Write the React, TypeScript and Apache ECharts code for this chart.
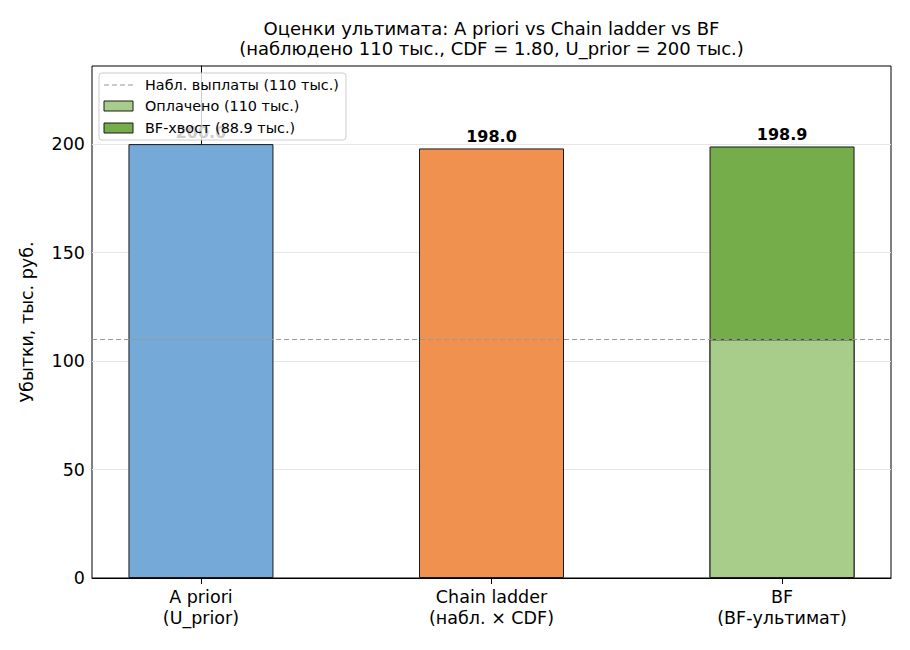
import React, { useEffect, useRef } from "react";
import * as echarts from "echarts";

const categories = ["A priori\n(U_prior)", "Chain ladder\n(набл. × CDF)", "BF\n(BF-ультимат)"];
const aprioriValue = 200.0;
const chainLadderValue = 198.0;
const bfPaid = 110.0;
const bfTail = 88.9;
const observedPaid = 110;
const yTicks = [0, 50, 100, 150, 200];
const titleLines = [
  "Оценки ультимата: A priori vs Chain ladder vs BF",
  "(наблюдено 110 тыс., CDF = 1.80, U_prior = 200 тыс.)",
];
const legendLabels = ["Набл. выплаты (110 тыс.)", "Оплачено (110 тыс.)", "BF-хвост (88.9 тыс.)"];

const FONT = "'DejaVu Sans', sans-serif";
const C_BLUE = "#74a9d8";
const C_ORANGE = "#f09150";
const C_LGREEN = "#a8cd8a";
const C_DGREEN = "#74ad4a";
const EDGE = "#1a1a1a";

export default function App() {
  const ref = useRef<HTMLDivElement>(null);
  useEffect(() => {
    if (!ref.current) return;
    const chart = echarts.init(ref.current, null, { renderer: "svg" });
    const gridLeft = 92, gridTop = 66, gridRight = 19, gridBottom = 72;
    const plotCenterX = gridLeft + (910 - gridLeft - gridRight) / 2;
    const lx = 99, ly = 73;
    const labelStyle = {
      position: "top", distance: 4, fontFamily: FONT, fontSize: 16, fontWeight: "bold", color: "#000",
    };
    const bfTotal = bfPaid + bfTail;
    const option: any = {
      animation: false,
      grid: {
        left: gridLeft, top: gridTop, right: gridRight, bottom: gridBottom,
        show: true, borderColor: "#000", borderWidth: 1, backgroundColor: "transparent",
      },
      xAxis: {
        type: "value", min: -0.375, max: 2.375,
        splitLine: { show: false },
        axisLine: { show: true, onZero: false, lineStyle: { color: "#000", width: 1 } },
        axisTick: { show: true, customValues: [0, 1, 2], length: 6, lineStyle: { color: "#000" } },
        axisLabel: {
          customValues: [0, 1, 2],
          formatter: (v: number) => categories[Math.round(v)] ?? "",
          fontFamily: FONT, fontSize: 17.5, color: "#000", lineHeight: 21, margin: 8,
          showMinLabel: true, showMaxLabel: true,
        },
      },
      yAxis: {
        type: "value", min: 0, max: 236, interval: 50,
        name: "Убытки, тыс. руб.", nameLocation: "middle", nameGap: 56,
        nameTextStyle: { fontFamily: FONT, fontSize: 17.5, color: "#000" },
        axisLine: { show: true, lineStyle: { color: "#000", width: 1 } },
        axisTick: { show: true, length: 6, lineStyle: { color: "#000" }, customValues: yTicks },
        axisLabel: { fontFamily: FONT, fontSize: 17.5, color: "#000", margin: 7, customValues: yTicks },
        splitLine: { show: true, lineStyle: { color: "#e6e6e6", width: 1 } },
      },
      series: [
        {
          // BF total (paid + tail); the paid part is drawn over its lower section
          type: "bar", barWidth: 145, barGap: "-100%", z: 2,
          data: [[2, bfTotal]],
          itemStyle: { color: C_DGREEN, borderColor: EDGE, borderWidth: 1 },
          label: { ...labelStyle, show: true, formatter: () => bfTotal.toFixed(1) },
        },
        {
          type: "bar", barWidth: 145, barGap: "-100%", z: 2,
          data: [
            { value: [0, aprioriValue], itemStyle: { color: C_BLUE }, label: { show: true } },
            { value: [1, chainLadderValue], itemStyle: { color: C_ORANGE }, label: { show: true } },
            { value: [2, bfPaid], itemStyle: { color: C_LGREEN }, label: { show: false } },
          ],
          itemStyle: { borderColor: EDGE, borderWidth: 1 },
          label: { ...labelStyle, formatter: (p: any) => Number(p.value[1]).toFixed(1) },
        },
        {
          type: "line", data: [], z: 5, silent: true,
          markLine: {
            silent: true, symbol: ["none", "none"], label: { show: false },
            lineStyle: { color: "#999999", type: [5, 3], width: 1.2 },
            data: [{ yAxis: observedPaid }],
          },
        },
      ],
      graphic: [
        {
          type: "text", x: plotCenterX, y: 28, z: 10,
          style: { text: titleLines[0], font: `18px ${FONT}`, fill: "#000", align: "center", verticalAlign: "middle" },
        },
        {
          type: "text", x: plotCenterX, y: 48, z: 10,
          style: { text: titleLines[1], font: `18px ${FONT}`, fill: "#000", align: "center", verticalAlign: "middle" },
        },
        {
          type: "group", x: lx, y: ly, z: 20,
          children: [
            { type: "rect", shape: { x: 0, y: 0, width: 247, height: 67, r: 3 }, style: { fill: "rgba(255,255,255,0.8)", stroke: "#cccccc", lineWidth: 1 }, z: 20 },
            { type: "line", shape: { x1: 5, y1: 12, x2: 34, y2: 12 }, style: { stroke: "#999999", lineWidth: 1.2, lineDash: [5, 3] }, z: 21 },
            { type: "text", x: 46, y: 12, style: { text: legendLabels[0], font: `14.4px ${FONT}`, fill: "#000", verticalAlign: "middle" }, z: 21 },
            { type: "rect", shape: { x: 5, y: 28, width: 29, height: 10 }, style: { fill: C_LGREEN, stroke: EDGE, lineWidth: 1 }, z: 21 },
            { type: "text", x: 46, y: 33, style: { text: legendLabels[1], font: `14.4px ${FONT}`, fill: "#000", verticalAlign: "middle" }, z: 21 },
            { type: "rect", shape: { x: 5, y: 50, width: 29, height: 10 }, style: { fill: C_DGREEN, stroke: EDGE, lineWidth: 1 }, z: 21 },
            { type: "text", x: 46, y: 55, style: { text: legendLabels[2], font: `14.4px ${FONT}`, fill: "#000", verticalAlign: "middle" }, z: 21 },
          ],
        },
      ],
    };
    chart.setOption(option);
    return () => chart.dispose();
  }, []);
  return <div ref={ref} style={{ width: 910, height: 650, position: "absolute", left: 0, top: 0 }} />;
}
